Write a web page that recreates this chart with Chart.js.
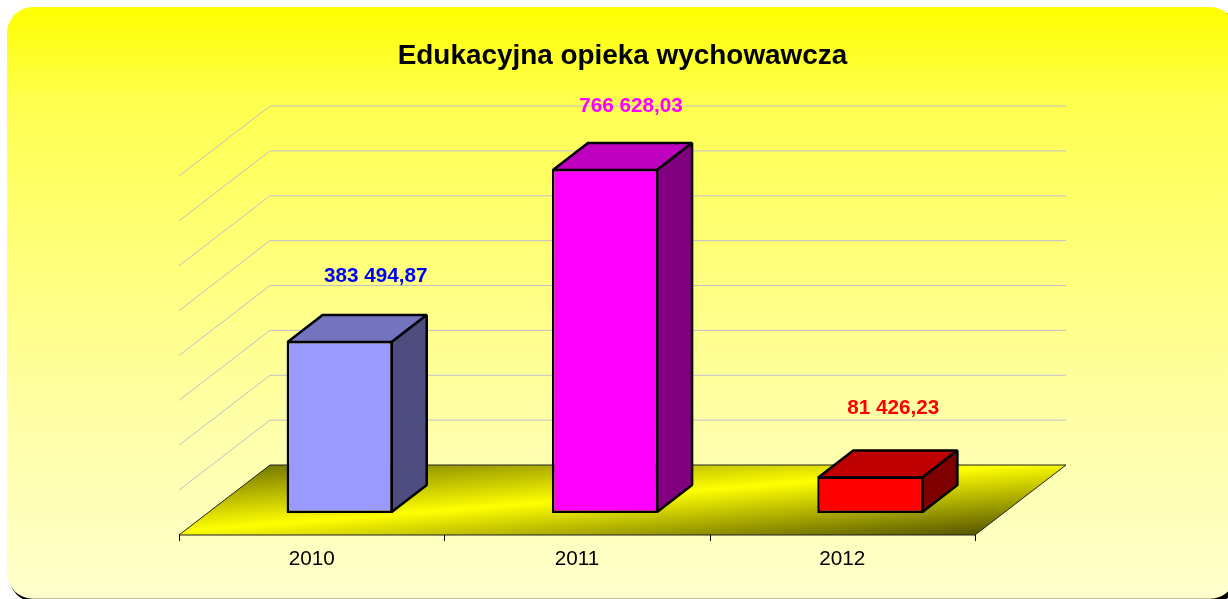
<!DOCTYPE html>
<html>
<head>
<meta charset="utf-8">
<script src="https://cdn.jsdelivr.net/npm/chart.js@4"></script>
<style>
    html, body { margin: 0; padding: 0; background: #fff; overflow: hidden; }
    canvas { display: block; }
</style>
</head>
<body>
<canvas id="opiekaChart" width="1228" height="599"></canvas>
<script>
const titleText = 'Edukacyjna opieka wychowawcza';
const years = ['2010', '2011', '2012'];
const amounts = [383494.87, 766628.03, 81426.23];
const amountLabels = ['383 494,87', '766 628,03', '81 426,23'];

const faceColors = ['#9999FF', '#FF00FF', '#FF0000'];
const topColors = ['#7373BF', '#BF00BF', '#BF0000'];
const sideColors = ['#4D4D80', '#800080', '#800000'];
const labelColors = ['#0000FF', '#FF00FF', '#FF0000'];
const labelNudgeX = [36, 26, 23];
const labelLift = [65, 63, 68];

// fake 3D: offsets from the plot area to the front edge and back wall of the floor
const front = { x: -28, y: 22 };
const back = { x: 63, y: -48 };
const barDepth = { x: 35, y: -27 };
const FONT = '"Liberation Sans", Arial, sans-serif';

function roundedRect(ctx, x, y, w, h, r) {
    ctx.beginPath();
    ctx.roundRect(x, y, w, h, r);
}

function polygon(ctx, points, fill, stroke, width) {
    ctx.beginPath();
    points.forEach((p, i) => i ? ctx.lineTo(p[0], p[1]) : ctx.moveTo(p[0], p[1]));
    ctx.closePath();
    if (fill) {
        ctx.fillStyle = fill;
        ctx.fill();
    }
    ctx.strokeStyle = stroke;
    ctx.lineWidth = width;
    ctx.lineJoin = 'bevel';
    ctx.stroke();
}

const fakeThreeD = {
    id: 'fakeThreeD',

    beforeDraw(chart) {
        const ctx = chart.ctx;
        ctx.save();
        ctx.fillStyle = '#000';
        roundedRect(ctx, 9, 10, 1231, 592, 26);
        ctx.fill();
        const bg = ctx.createLinearGradient(0, 7, 0, 599);
        bg.addColorStop(0, '#FFFF00');
        bg.addColorStop(0.16, '#FFFF50');
        bg.addColorStop(0.46, '#FFFF80');
        bg.addColorStop(0.7, '#FFFFA8');
        bg.addColorStop(1, '#FFFFCC');
        ctx.fillStyle = bg;
        roundedRect(ctx, 7, 7, 1229, 591.8, 26);
        ctx.fill();
        ctx.restore();
    },

    beforeDatasetsDraw(chart) {
        const ctx = chart.ctx;
        const x = chart.scales.x;
        const y = chart.scales.y;
        const base = y.getPixelForValue(0);
        ctx.save();

        // walls
        ctx.strokeStyle = '#C0C0CC';
        ctx.lineWidth = 1;
        y.ticks.forEach(tick => {
            if (tick.value === 0) return;
            const py = y.getPixelForValue(tick.value);
            ctx.beginPath();
            ctx.moveTo(x.left + front.x, py + front.y);
            ctx.lineTo(x.left + back.x, py + back.y);
            ctx.lineTo(x.right + back.x, py + back.y);
            ctx.stroke();
        });

        // floor
        const floorMidX = (x.left + x.right) / 2 + (front.x + back.x) / 2;
        const floorMidY = base + (front.y + back.y) / 2;
        const floorFill = ctx.createLinearGradient(floorMidX - 5, floorMidY - 63, floorMidX + 5, floorMidY + 63);
        floorFill.addColorStop(0, '#777700');
        floorFill.addColorStop(0.47, '#FFFF00');
        floorFill.addColorStop(1, '#555500');
        polygon(ctx, [
            [x.left + front.x, base + front.y],
            [x.right + front.x, base + front.y],
            [x.right + back.x, base + back.y],
            [x.left + back.x, base + back.y]
        ], floorFill, '#222', 1);

        // category ticks on the front edge
        ctx.strokeStyle = '#000';
        ctx.beginPath();
        for (let i = 0; i <= years.length; i++) {
            const tx = Math.round(x.left + front.x + i * x.width / years.length) + 0.5;
            ctx.moveTo(tx, base + front.y);
            ctx.lineTo(tx, base + front.y + 6);
        }
        ctx.stroke();

        // bar top and side faces
        chart.getDatasetMeta(0).data.forEach((bar, i) => {
            const l = bar.x - bar.width / 2 + 1;
            const r = bar.x + bar.width / 2 - 1;
            const t = bar.y + 1;
            const b = bar.base - 1;
            polygon(ctx, [[l, t], [r, t], [r + barDepth.x, t + barDepth.y], [l + barDepth.x, t + barDepth.y]],
                topColors[i], '#000', 2.5);
            polygon(ctx, [[r, t], [r + barDepth.x, t + barDepth.y], [r + barDepth.x, b + barDepth.y], [r, b]],
                sideColors[i], '#000', 2.5);
        });
        ctx.restore();
    },

    afterDatasetsDraw(chart) {
        const ctx = chart.ctx;
        ctx.save();
        ctx.textAlign = 'center';
        ctx.textBaseline = 'middle';

        ctx.font = 'bold 20.7px ' + FONT;
        chart.getDatasetMeta(0).data.forEach((bar, i) => {
            ctx.fillStyle = labelColors[i];
            ctx.fillText(amountLabels[i], bar.x + labelNudgeX[i], bar.y - labelLift[i]);
        });

        ctx.fillStyle = '#000';
        ctx.font = 'bold 27.9px ' + FONT;
        ctx.fillText(titleText, 622.5, 56);
        ctx.restore();
    }
};

new Chart(document.getElementById('opiekaChart').getContext('2d'), {
    type: 'bar',
    data: {
        labels: years,
        datasets: [{
            data: amounts,
            backgroundColor: faceColors,
            borderColor: '#000',
            borderWidth: 2.5,
            borderSkipped: false,
            barPercentage: 1,
            categoryPercentage: 0.4
        }]
    },
    options: {
        responsive: false,
        animation: false,
        layout: { padding: { left: 207, right: 225, top: 154, bottom: 0 } },
        plugins: {
            legend: { display: false },
            title: { display: false },
            tooltip: { enabled: false }
        },
        scales: {
            x: {
                afterFit: scale => { scale.height = 86; },
                grid: { display: false },
                border: { display: false },
                ticks: {
                    labelOffset: front.x,
                    padding: 26,
                    color: '#000',
                    font: { family: FONT, size: 20.7 }
                }
            },
            y: {
                min: 0,
                max: 800000,
                afterFit: scale => { scale.width = 0; },
                grid: { display: false },
                border: { display: false },
                ticks: { display: false, stepSize: 100000 }
            }
        }
    },
    plugins: [fakeThreeD]
});
</script>
</body>
</html>
